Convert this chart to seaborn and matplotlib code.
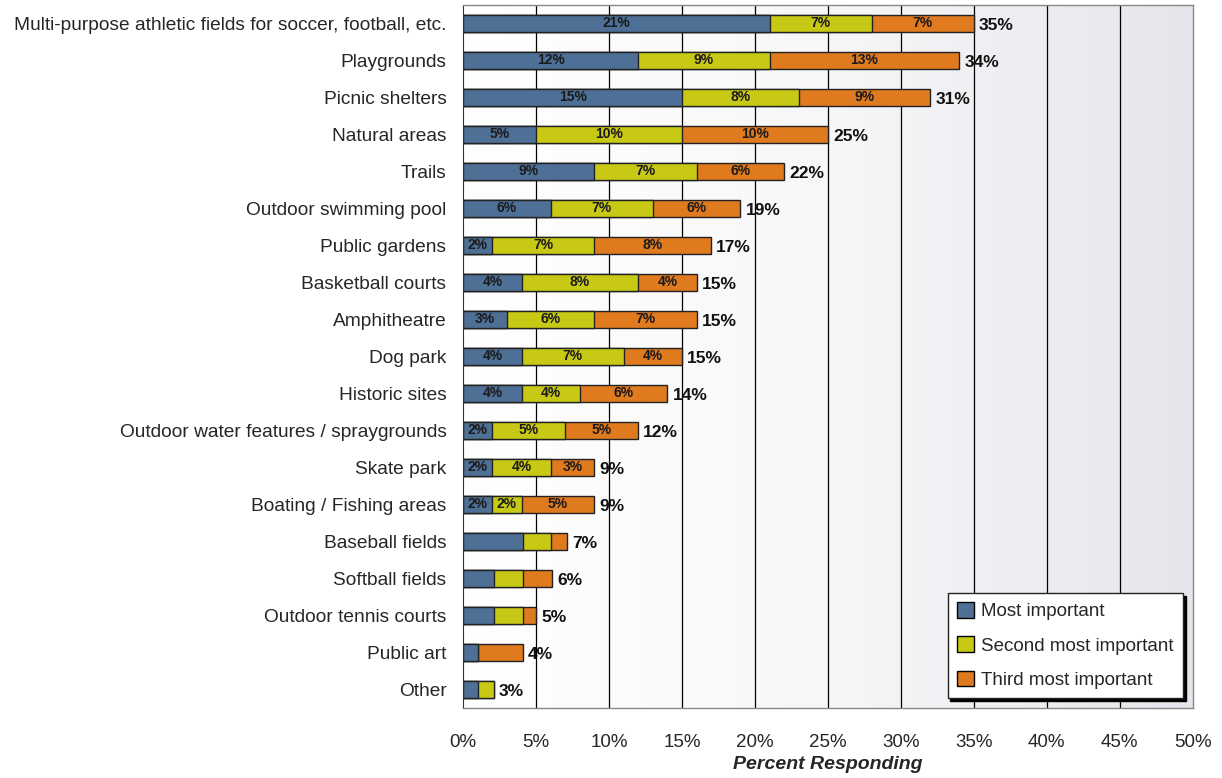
import matplotlib
matplotlib.use("Agg")
import matplotlib.pyplot as plt
from matplotlib.colors import LinearSegmentedColormap
from matplotlib.patches import Patch
import numpy as np
import pandas as pd
import seaborn as sns

fontName = "Liberation Sans"

categories = [
    "Multi-purpose athletic fields for soccer, football, etc.",
    "Playgrounds",
    "Picnic shelters",
    "Natural areas",
    "Trails",
    "Outdoor swimming pool",
    "Public gardens",
    "Basketball courts",
    "Amphitheatre",
    "Dog park",
    "Historic sites",
    "Outdoor water features / spraygrounds",
    "Skate park",
    "Boating / Fishing areas",
    "Baseball fields",
    "Softball fields",
    "Outdoor tennis courts",
    "Public art",
    "Other",
]
mostImportant = [21, 12, 15, 5, 9, 6, 2, 4, 3, 4, 4, 2, 2, 2, 4.1, 2.1, 2.1, 1.05, 1.05]
secondImportant = [7, 9, 8, 10, 7, 7, 7, 8, 6, 7, 4, 5, 4, 2, 1.95, 2.0, 2.0, 0, 1.05]
thirdImportant = [7, 13, 9, 10, 6, 6, 8, 4, 7, 4, 6, 5, 3, 5, 1.05, 2.0, 0.9, 3.05, 0]
segmentLabels1 = ["21%", "12%", "15%", "5%", "9%", "6%", "2%", "4%", "3%", "4%", "4%", "2%", "2%", "2%"]
segmentLabels2 = ["7%", "9%", "8%", "10%", "7%", "7%", "7%", "8%", "6%", "7%", "4%", "5%", "4%", "2%"]
segmentLabels3 = ["7%", "13%", "9%", "10%", "6%", "6%", "8%", "4%", "7%", "4%", "6%", "5%", "3%", "5%"]
totalLabels = ["35%", "34%", "31%", "25%", "22%", "19%", "17%", "15%", "15%", "15%",
               "14%", "12%", "9%", "9%", "7%", "6%", "5%", "4%", "3%"]
seriesNames = ["Most important", "Second most important", "Third most important"]
colours = ["#4E7096", "#C8C915", "#E07A1F"]

df = pd.DataFrame({
    "category": categories,
    "first": mostImportant,
    "second": secondImportant,
    "third": thirdImportant,
})
df["cum1"] = df["first"]
df["cum2"] = df["first"] + df["second"]
df["cum3"] = df["cum2"] + df["third"]

sns.set_style("white")
plt.rcParams["font.family"] = [fontName, "DejaVu Sans"]

fig = plt.figure(figsize=(12.22, 7.78), dpi=100)
ax = fig.add_axes([0.379, 0.09, 0.597, 0.9036])

# background gradient, white on the left to light grey on the right
cmap = LinearSegmentedColormap.from_list("bg", ["#FFFFFF", "#F7F7F9", "#E5E6EB"])
ax.imshow(np.linspace(0, 1, 256).reshape(1, -1), extent=[0, 50, len(categories) - 0.5, -0.5],
          aspect="auto", cmap=cmap, zorder=0)

for xv in range(5, 50, 5):
    ax.axvline(xv, color="black", linewidth=0.9, zorder=1)

barWidth = 0.48
for col, colour in zip(["cum3", "cum2", "cum1"], colours[::-1]):
    sns.barplot(data=df, x=col, y="category", order=categories, orient="h",
                color=colour, width=barWidth, edgecolor="#222222", linewidth=1,
                saturation=1, ax=ax, zorder=2)

for i in range(len(segmentLabels1)):
    ax.text(df["first"][i] / 2, i, segmentLabels1[i], ha="center", va="center",
            fontsize=10, fontweight="bold", color="#1a1a1a", zorder=3)
    ax.text(df["cum1"][i] + df["second"][i] / 2, i, segmentLabels2[i], ha="center", va="center",
            fontsize=10, fontweight="bold", color="#1a1a1a", zorder=3)
    ax.text(df["cum2"][i] + df["third"][i] / 2, i, segmentLabels3[i], ha="center", va="center",
            fontsize=10, fontweight="bold", color="#1a1a1a", zorder=3)

for i, lab in enumerate(totalLabels):
    ax.text(df["cum3"][i] + 0.35, i + 0.05, lab, ha="left", va="center",
            fontsize=12.5, fontweight="bold", color="#111111", zorder=3)

ax.set_xlim(0, 50)
ax.set_ylim(len(categories) - 0.5, -0.5)
ax.set_xticks(range(0, 51, 5))
ax.set_xticklabels([f"{v}%" for v in range(0, 51, 5)], fontsize=13.5)
ax.set_yticks(range(len(categories)))
ax.set_yticklabels(categories, fontsize=13.8)
ax.set_yticks(np.arange(0.5, len(categories) - 0.5, 1), minor=True)
ax.tick_params(axis="y", which="major", length=0, pad=12)
ax.tick_params(axis="y", which="minor", length=5, color="#444444", direction="out")
ax.tick_params(axis="x", which="major", length=6, color="#444444", direction="out", pad=13)
ax.set_ylabel("")
ax.set_xlabel("Percent Responding", fontsize=14, fontweight="bold", style="italic", labelpad=3)

for side in ["top", "right", "bottom"]:
    ax.spines[side].set_color("#888888")
    ax.spines[side].set_linewidth(1)
ax.spines["left"].set_color("#333333")

handles = [Patch(facecolor=c, edgecolor="black", linewidth=1) for c in colours]
leg = ax.legend(handles, seriesNames, loc="lower left", bbox_to_anchor=(0.664, 0.014),
                fontsize=13.5, frameon=True, fancybox=False, shadow={"color": "black", "alpha": 1},
                edgecolor="#222222", framealpha=1, handlelength=0.9, handleheight=0.9,
                handletextpad=0.4, borderpad=0.5, labelspacing=0.85, borderaxespad=0)
leg.set_zorder(5)

fig.savefig("out.png", dpi=100)
